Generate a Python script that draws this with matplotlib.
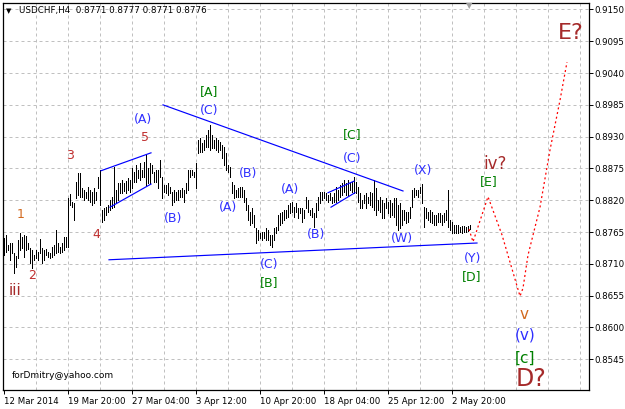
import matplotlib
matplotlib.use('Agg')
import matplotlib.pyplot as plt
from matplotlib.collections import LineCollection

# ---------------- data ----------------
highs = [
    0.8755,0.8760,0.8743,0.8746,0.8746,0.8729,0.8724,0.8751,0.8763,0.8756,0.8760,0.8758,0.8746,0.8737,0.8734,0.8725,
    0.8734,0.8731,0.8753,0.8737,0.8734,0.8736,0.8731,0.8729,0.8739,0.8743,0.8768,0.8746,0.8739,0.8746,0.8756,0.8756,
    0.8823,0.8830,0.8817,0.8815,0.8852,0.8867,0.8867,0.8841,0.8838,0.8834,0.8843,0.8838,0.8834,0.8841,0.8834,0.8860,
    0.8872,0.8803,0.8806,0.8808,0.8812,0.8820,0.8826,0.8878,0.8838,0.8850,0.8850,0.8855,0.8850,0.8853,0.8858,0.8855,
    0.8876,0.8869,0.8881,0.8872,0.8884,0.8872,0.8886,0.8898,0.8876,0.8884,0.8881,0.8869,0.8872,0.8872,0.8890,0.8860,
    0.8846,0.8846,0.8850,0.8843,0.8834,0.8838,0.8834,0.8838,0.8838,0.8841,0.8838,0.8850,0.8872,0.8872,0.8872,0.8869,
    0.8884,0.8924,0.8928,0.8919,0.8924,0.8933,0.8942,0.8950,0.8933,0.8924,0.8928,0.8924,0.8921,0.8916,0.8912,0.8902,
    0.8881,0.8877,0.8852,0.8846,0.8838,0.8841,0.8843,0.8843,0.8838,0.8824,0.8812,0.8800,0.8807,0.8795,0.8772,0.8768,
    0.8763,0.8765,0.8765,0.8772,0.8768,0.8760,0.8760,0.8772,0.8774,0.8795,0.8798,0.8800,0.8803,0.8803,0.8812,0.8815,
    0.8817,0.8808,0.8815,0.8806,0.8806,0.8806,0.8803,0.8826,0.8820,0.8803,0.8806,0.8798,0.8815,0.8826,0.8834,0.8834,
    0.8834,0.8833,0.8829,0.8833,0.8826,0.8833,0.8843,0.8838,0.8846,0.8850,0.8855,0.8850,0.8855,0.8850,0.8852,0.8860,
    0.8852,0.8843,0.8833,0.8820,0.8829,0.8833,0.8826,0.8834,0.8833,0.8855,0.8841,0.8820,0.8826,0.8820,0.8815,0.8824,
    0.8817,0.8820,0.8815,0.8824,0.8824,0.8812,0.8815,0.8803,0.8803,0.8800,0.8800,0.8808,0.8838,0.8841,0.8838,0.8838,
    0.8843,0.8848,0.8808,0.8806,0.8800,0.8803,0.8800,0.8795,0.8795,0.8798,0.8798,0.8795,0.8798,0.8803,0.8838,0.8786,
    0.8782,0.8777,0.8777,0.8777,0.8774,0.8775,0.8775,0.8774,0.8775,0.8777,
]
lows = [
    0.8725,0.8731,0.8734,0.8717,0.8729,0.8694,0.8705,0.8720,0.8734,0.8737,0.8722,0.8734,0.8736,0.8712,0.8703,0.8717,
    0.8720,0.8717,0.8729,0.8712,0.8717,0.8725,0.8722,0.8720,0.8722,0.8725,0.8729,0.8731,0.8729,0.8731,0.8734,0.8739,
    0.8739,0.8812,0.8808,0.8786,0.8824,0.8829,0.8826,0.8826,0.8820,0.8824,0.8820,0.8817,0.8812,0.8815,0.8820,0.8841,
    0.8812,0.8782,0.8786,0.8794,0.8800,0.8803,0.8806,0.8808,0.8815,0.8820,0.8833,0.8833,0.8836,0.8833,0.8838,0.8834,
    0.8841,0.8852,0.8852,0.8859,0.8855,0.8860,0.8860,0.8846,0.8850,0.8850,0.8867,0.8852,0.8852,0.8841,0.8860,0.8824,
    0.8834,0.8833,0.8829,0.8833,0.8812,0.8817,0.8820,0.8820,0.8826,0.8826,0.8817,0.8833,0.8838,0.8860,0.8864,0.8860,
    0.8841,0.8902,0.8904,0.8904,0.8907,0.8912,0.8912,0.8907,0.8910,0.8910,0.8907,0.8904,0.8907,0.8893,0.8881,0.8872,
    0.8869,0.8860,0.8833,0.8824,0.8826,0.8826,0.8826,0.8826,0.8817,0.8803,0.8786,0.8777,0.8781,0.8774,0.8746,0.8751,
    0.8754,0.8751,0.8755,0.8751,0.8751,0.8743,0.8739,0.8751,0.8763,0.8768,0.8777,0.8781,0.8786,0.8789,0.8791,0.8798,
    0.8800,0.8791,0.8800,0.8789,0.8798,0.8782,0.8789,0.8806,0.8800,0.8794,0.8791,0.8774,0.8791,0.8803,0.8815,0.8820,
    0.8824,0.8820,0.8817,0.8820,0.8815,0.8817,0.8817,0.8820,0.8826,0.8829,0.8834,0.8829,0.8829,0.8838,0.8834,0.8833,
    0.8833,0.8817,0.8806,0.8806,0.8815,0.8806,0.8815,0.8812,0.8808,0.8803,0.8794,0.8803,0.8800,0.8789,0.8789,0.8806,
    0.8798,0.8791,0.8794,0.8791,0.8777,0.8768,0.8772,0.8777,0.8786,0.8781,0.8782,0.8789,0.8808,0.8826,0.8829,0.8826,
    0.8833,0.8815,0.8774,0.8789,0.8786,0.8782,0.8781,0.8777,0.8777,0.8782,0.8782,0.8777,0.8782,0.8786,0.8774,0.8768,
    0.8763,0.8763,0.8763,0.8763,0.8765,0.8763,0.8765,0.8765,0.8767,0.8771,
]

# projected path (red dotted)
proj_bar = [232.5, 234.5, 242, 249, 258, 259.5, 262, 268, 273, 278, 281.5]
proj_price = [0.8770, 0.8748, 0.8826, 0.8760, 0.8654, 0.8668, 0.8725, 0.8808, 0.8907, 0.8993, 0.9059]

# trend lines: (bar0, price0, bar1, price1)
trend_lines = [
    (79.5, 0.8985, 199.5, 0.8836),
    (52.5, 0.8717, 236.5, 0.8746),
    (48.5, 0.8871, 73.5, 0.8902),
    (53.0, 0.8808, 73.5, 0.8848),
    (162.0, 0.8833, 175.0, 0.8853),
    (163.5, 0.8808, 175.5, 0.8833),
]

price_ticks = [0.8545, 0.8600, 0.8655, 0.8710, 0.8765, 0.8820, 0.8875,
               0.8930, 0.8985, 0.9040, 0.9095, 0.9150]
time_tick_bars = [0, 32, 64, 96, 128, 160, 192, 224]
time_tick_labels = ['12 Mar 2014', '19 Mar 20:00', '27 Mar 04:00', '3 Apr 12:00',
                    '10 Apr 20:00', '18 Apr 04:00', '25 Apr 12:00', '2 May 20:00']

BLUE = '#2f2fff'
GREEN = '#008000'
BROWN = '#a52a2a'
RED = '#c03030'
ORANGE = '#d2691e'

wave_labels = [
    ('iii', 5.5, 0.8663, BROWN, 11),
    ('1', 8.5, 0.8795, ORANGE, 9),
    ('2', 14, 0.8689, RED, 9),
    ('3', 33, 0.8898, RED, 9),
    ('4', 46, 0.8760, RED, 9),
    ('5', 70.5, 0.8928, RED, 9),
    ('(A)', 69.5, 0.8959, BLUE, 9),
    ('(B)', 84.5, 0.8789, BLUE, 9),
    ('[A]', 102.5, 0.9008, GREEN, 9),
    ('(C)', 102.5, 0.8976, BLUE, 9),
    ('(A)', 112, 0.8808, BLUE, 9),
    ('(B)', 122, 0.8867, BLUE, 9),
    ('(C)', 132.5, 0.8708, BLUE, 9),
    ('[B]', 132.5, 0.8677, GREEN, 9),
    ('(A)', 143, 0.8839, BLUE, 9),
    ('(B)', 156, 0.8760, BLUE, 9),
    ('[C]', 174, 0.8933, GREEN, 9),
    ('(C)', 174, 0.8893, BLUE, 9),
    ('(W)', 199, 0.8753, BLUE, 9),
    ('(X)', 209.5, 0.8871, BLUE, 9),
    ('(Y)', 234.5, 0.8720, BLUE, 9),
    ('[D]', 234, 0.8688, GREEN, 9),
    ('iv?', 245.5, 0.8883, BROWN, 12),
    ('[E]', 242.5, 0.8852, GREEN, 9),
    ('v', 260, 0.8623, ORANGE, 11),
    ('(v)', 260.5, 0.8587, BLUE, 11),
    ('[c]', 260.5, 0.8547, GREEN, 11),
    ('D?', 263.5, 0.8511, BROWN, 17),
    ('E?', 283.3, 0.9110, BROWN, 16),
]

# ---------------- figure ----------------
W, H = 625, 409
plt.rcParams['font.family'] = ['DejaVu Sans']
fig = plt.figure(figsize=(W / 100, H / 100), dpi=100)
fig.patch.set_facecolor('white')

L, R, T, B = 3, 589, 3, 390
ax = fig.add_axes([L / W, (H - B) / H, (R - L) / W, (B - T) / H])
ax.set_facecolor('white')
ax.set_xlim(-0.5, 292.5)
ax.set_ylim(0.91664 - 0.000173 * B, 0.91664 - 0.000173 * T)

# grid
for p in price_ticks:
    ax.axhline(p, color='#c0c0c0', lw=0.72, ls=(0, (3, 3)), zorder=0)
for k in range(1, 19):
    ax.axvline(16 * k, color='#c0c0c0', lw=0.72, ls=(0, (3, 3)), zorder=0)

# bars
segs = [[(i, lo), (i, hi)] for i, (hi, lo) in enumerate(zip(highs, lows))]
lc = LineCollection(segs, colors='black', linewidths=0.72, antialiaseds=False, zorder=3)
ax.add_collection(lc)

# trend lines
for b0, p0, b1, p1 in trend_lines:
    ax.plot([b0, b1], [p0, p1], color='#0000ff', lw=0.85, zorder=4)

# projection
ax.plot(proj_bar, proj_price, color='red', lw=0.9, ls=(0, (1.6, 2.2)), zorder=4)

# labels
for txt, b, p, c, s in wave_labels:
    ax.text(b, p, txt, color=c, fontsize=s, ha='center', va='center', zorder=5)

# axes styling
for sp in ax.spines.values():
    sp.set_color('black')
    sp.set_linewidth(0.9)
ax.yaxis.tick_right()
ax.set_yticks(price_ticks)
ax.set_yticklabels([f'{p:.4f}' for p in price_ticks])
ax.set_xticks(time_tick_bars)
ax.set_xticklabels(time_tick_labels, ha='left')
ax.tick_params(axis='y', which='both', direction='out', length=3, width=0.7,
               labelsize=6.2, pad=1, colors='black')
ax.tick_params(axis='x', which='both', direction='out', length=3, width=0.7,
               labelsize=6.2, pad=2, colors='black')
for lab in ax.get_xticklabels():
    lab.set_horizontalalignment('left')

# header and footer
fig.text(6 / W, 1 - 11 / H, '\u25BC', fontsize=5, color='black', va='center', ha='left')
fig.text(19 / W, 1 - 11 / H, 'USDCHF,H4  0.8771 0.8777 0.8771 0.8776', fontsize=6.3,
         color='black', va='center', ha='left')
fig.text(12 / W, 1 - 375 / H, 'forDmitry@yahoo.com', fontsize=6.5, color='black',
         va='center', ha='left')
# chart shift marker
fig.text(469 / W, 1 - 6 / H, '\u25BC', fontsize=6, color='#a0a0a0', va='center', ha='center')

fig.savefig('out.png', dpi=100, facecolor='white')
